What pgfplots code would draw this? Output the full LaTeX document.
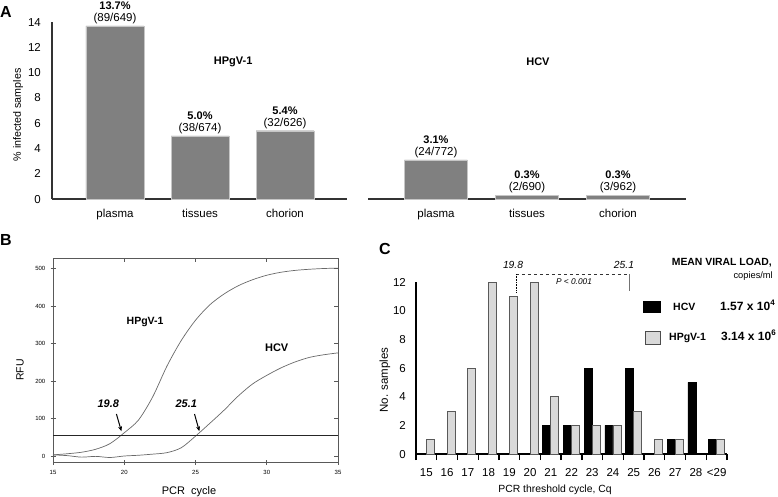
\documentclass[border=0pt]{standalone}
\usepackage{pgfplots}
\pgfplotsset{compat=1.18}
\usepackage{fontspec}
\setmainfont{Liberation Sans}
\usetikzlibrary{arrows.meta}
\definecolor{barA}{RGB}{128,128,128}
\definecolor{lgray}{RGB}{217,217,217}
\definecolor{curve}{RGB}{105,105,105}
\newcommand{\fs}[1]{\fontsize{#1}{#1}\selectfont}
\pgfplotsset{/pgf/number format/assume math mode=true}
\begin{document}
\begin{tikzpicture}
\useasboundingbox (0pt,0pt) rectangle (778pt,-497pt);
% ---------------- Panel A, HPgV-1 ----------------
\begin{axis}[
  at={(52pt,-199pt)}, anchor=south west,
  scale only axis, width=295pt, height=177pt,
  xmin=-0.741, xmax=2.729, ymin=0, ymax=14,
  axis x line*=bottom, axis y line*=left,
  axis line style={draw=black!80, line width=1.2pt},
  major tick length=0pt,
  xtick={0,1,2}, xticklabels={plasma,tissues,chorion},
  ytick={0,2,...,14},
  xticklabel style={font=\fs{11.5}, anchor=base, inner sep=0pt, yshift=-18pt},
  yticklabel style={font=\fs{11.5}, anchor=base east, inner sep=0pt, xshift=-11pt, yshift=-4.1pt},
  clip=false,
]
\addplot[ybar, bar width=58pt, fill=barA, draw=gray!45] coordinates {(0,13.7) (1,5.0) (2,5.4)};
\node[font=\bfseries\fs{11}, anchor=base, yshift=16.5pt] at (axis cs:0,13.7) {13.7\%};
\node[font=\fs{11.5}, anchor=base, yshift=4.5pt] at (axis cs:0,13.7) {(89/649)};
\node[font=\bfseries\fs{11}, anchor=base, yshift=16.5pt] at (axis cs:1,5.0) {5.0\%};
\node[font=\fs{11.5}, anchor=base, yshift=4.5pt] at (axis cs:1,5.0) {(38/674)};
\node[font=\bfseries\fs{11}, anchor=base, yshift=16.5pt] at (axis cs:2,5.4) {5.4\%};
\node[font=\fs{11.5}, anchor=base, yshift=4.5pt] at (axis cs:2,5.4) {(32/626)};
\node[font=\bfseries\fs{11}] at (axis cs:1.39,10.84) {HPgV-1};
\end{axis}
% ---------------- Panel A, HCV ----------------
\begin{axis}[
  at={(368pt,-199pt)}, anchor=south west,
  scale only axis, width=318pt, height=177pt,
  xmin=-0.747, xmax=2.747, ymin=0, ymax=14,
  axis x line*=bottom, axis y line=none,
  axis line style={draw=black!80, line width=1.2pt},
  major tick length=0pt,
  xtick={0,1,2}, xticklabels={plasma,tissues,chorion},
  ytick=\empty,
  xticklabel style={font=\fs{11.5}, anchor=base, inner sep=0pt, yshift=-18pt},
  clip=false,
]
\addplot[ybar, bar width=63pt, fill=barA, draw=gray!45] coordinates {(0,3.1) (1,0.3) (2,0.3)};
\node[font=\bfseries\fs{11}, anchor=base, yshift=16.5pt] at (axis cs:0,3.1) {3.1\%};
\node[font=\fs{11.5}, anchor=base, yshift=4.5pt] at (axis cs:0,3.1) {(24/772)};
\node[font=\bfseries\fs{11}, anchor=base, yshift=16.5pt] at (axis cs:1,0.3) {0.3\%};
\node[font=\fs{11.5}, anchor=base, yshift=4.5pt] at (axis cs:1,0.3) {(2/690)};
\node[font=\bfseries\fs{11}, anchor=base, yshift=16.5pt] at (axis cs:2,0.3) {0.3\%};
\node[font=\fs{11.5}, anchor=base, yshift=4.5pt] at (axis cs:2,0.3) {(3/962)};
\node[font=\bfseries\fs{11}] at (axis cs:1.12,10.84) {HCV};
\end{axis}
\node[font=\bfseries\fs{16}, anchor=base west, inner sep=0pt] at (0pt,-18pt) {A};
\node[font=\fs{10.7}, rotate=90] at (18pt,-115pt) {\% infected samples};
% ---------------- Panel B ----------------
\begin{axis}[
  at={(53pt,-462pt)}, anchor=south west,
  scale only axis, width=285pt, height=204pt,
  xmin=15, xmax=35, ymin=-16, ymax=528,
  xtick={15,20,...,35}, ytick={0,100,...,500},
  xtick pos=left, ytick pos=left,
  tick align=center, major tick length=5pt,
  axis line style={draw=black!65, line width=0.7pt},
  tick style={draw=black!65, line width=0.6pt},
  xticklabel style={font=\fs{6}, anchor=base, inner sep=0pt, yshift=-10pt},
  yticklabel style={font=\fs{6}, anchor=base east, inner sep=0pt, xshift=-5pt, yshift=-2.2pt},
  clip=false,
]
\addplot[smooth, curve, line width=0.7pt] coordinates {
(15,3)(16,6)(17,10)(18,18)(19,33)(20,62)(21,96)(22,158)(23,240)(24,308)
(25,362)(26,403)(27,432)(28,454)(29,470)(30,482)(31,490)(32,495)(33,498)(34,500)(35,501)};
\addplot[smooth, curve, line width=0.7pt] coordinates {
(15,3)(16,1)(17,-3)(18,-1)(19,-4)(20,0)(21,2)(22,5)(23,9)(24,22)(25,53)(26,87)
(27,122)(28,160)(29,192)(30,215)(31,235)(32,251)(33,263)(34,270)(35,275)};
\addplot[black!85, line width=1.1pt] coordinates {(15,55) (35,55)};
\draw[-{Stealth[length=5pt,width=4pt]}, line width=1pt] (axis cs:19.45,112) -- (axis cs:19.8,66);
\draw[-{Stealth[length=5pt,width=4pt]}, line width=1pt] (axis cs:24.93,112) -- (axis cs:25.27,66);
\node[font=\bfseries\itshape\fs{11}] at (axis cs:18.88,140) {19.8};
\node[font=\bfseries\itshape\fs{11}] at (axis cs:24.35,140) {25.1};
\node[font=\bfseries\fs{10.5}] at (axis cs:21.46,357) {HPgV-1};
\node[font=\bfseries\fs{11}] at (axis cs:30.7,288) {HCV};
\end{axis}
% inner ticks on top and right of panel B
\begin{axis}[
  at={(53pt,-462pt)}, anchor=south west,
  scale only axis, width=285pt, height=204pt,
  xmin=15, xmax=35, ymin=-16, ymax=528,
  xtick={15,20,...,35}, ytick={0,100,...,500},
  xtick pos=right, ytick pos=right,
  tick align=inside, major tick length=4pt,
  axis line style={draw=none},
  tick style={draw=black!65, line width=0.6pt},
  xticklabels=\empty, yticklabels=\empty,
]
\end{axis}
\node[font=\bfseries\fs{16}, anchor=base west, inner sep=0pt] at (0pt,-245pt) {B};
\node[font=\fs{10.5}, rotate=90] at (20pt,-370pt) {RFU};
\node[font=\fs{11}, anchor=base] at (189pt,-494pt) {PCR\ \ cycle};
% ---------------- Panel C ----------------
\begin{axis}[
  at={(416pt,-454pt)}, anchor=south west,
  scale only axis, width=311pt, height=172pt,
  xmin=-0.5, xmax=14.5, ymin=0, ymax=12,
  axis x line*=bottom, axis y line*=left,
  axis line style={draw=black, line width=1.3pt},
  tick align=outside, major tick length=0pt, minor tick length=6pt,
  minor tick style={draw=black, line width=1.3pt},
  xtick={0,...,14},
  xticklabels={15,16,17,18,19,20,21,22,23,24,25,26,27,28,<29},
  minor xtick={-0.5,0.5,...,14.5},
  ytick={0,2,...,12},
  xticklabel style={font=\fs{11.5}, anchor=base, inner sep=0pt, yshift=-22.5pt},
  yticklabel style={font=\fs{11.5}, anchor=base east, inner sep=0pt, xshift=-10pt, yshift=-4.1pt},
  clip=false,
]
\addplot[ybar, bar width=8pt, bar shift=-4pt, fill=black, draw=black, line width=0.6pt] coordinates {
(6,2)(7,2)(8,6)(9,2)(10,6)(12,1)(13,5)(14,1)};
\addplot[ybar, bar width=8pt, bar shift=4pt, fill=lgray, draw=black!65, line width=0.8pt] coordinates {
(0,1)(1,3)(2,6)(3,12)(4,11)(5,12)(6,4)(7,2)(8,2)(9,2)(10,3)(11,1)(12,1)(14,1)};
\draw[dashed, black!80, line width=0.8pt] (axis cs:4.32,12.56) -- (axis cs:9.78,12.56);
\draw[densely dotted, black, line width=0.6pt] (axis cs:4.32,12.56) -- (axis cs:4.32,11.3);
\draw[black!55, line width=0.7pt] (axis cs:9.78,12.56) -- (axis cs:9.78,11.35);
\node[font=\itshape\fs{10.3}] at (axis cs:4.18,13.19) {19.8};
\node[font=\itshape\fs{10.3}] at (axis cs:9.53,13.19) {25.1};
\node[font=\itshape\fs{8.3}] at (axis cs:7.12,12.0) {P < 0.001};
\end{axis}
\node[font=\bfseries\fs{16}, anchor=base west, inner sep=0pt] at (379pt,-254pt) {C};
\node[font=\fs{11.5}, rotate=90] at (385pt,-380pt) {No. samples};
\node[font=\fs{10.4}] at (555pt,-490pt) {PCR threshold cycle, Cq};
% legend / annotation
\node[font=\bfseries\fs{10.4}, anchor=base east, inner sep=0pt] at (772pt,-265pt) {MEAN VIRAL LOAD,};
\node[font=\fs{9.3}, anchor=base east, inner sep=0pt] at (773pt,-278pt) {copies/ml};
\fill[black] (643pt,-301pt) rectangle (661pt,-313pt);
\draw[fill=lgray, draw=black!70, line width=0.9pt] (645pt,-331pt) rectangle (660pt,-344pt);
\node[font=\bfseries\fs{10.5}, anchor=base west, inner sep=0pt] at (673pt,-310pt) {HCV};
\node[font=\bfseries\fs{10.5}, anchor=base west, inner sep=0pt] at (669pt,-340pt) {HPgV-1};
\node[font=\bfseries\fs{12}, anchor=base west, inner sep=0pt] at (720pt,-310pt) {1.57 x 10\textsuperscript{4}};
\node[font=\bfseries\fs{12}, anchor=base west, inner sep=0pt] at (721pt,-340pt) {3.14 x 10\textsuperscript{6}};
\end{tikzpicture}
\end{document}
